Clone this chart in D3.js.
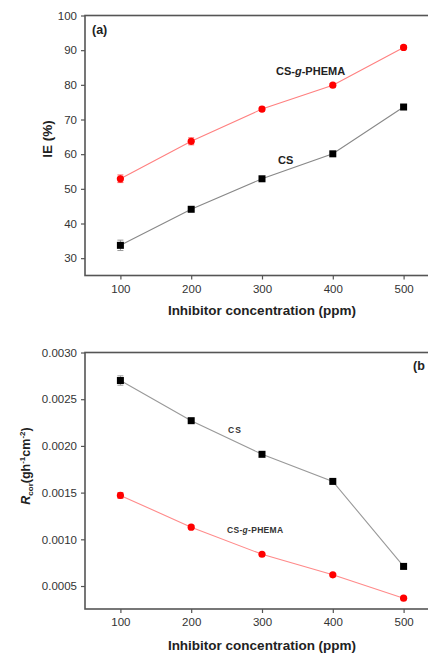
<!DOCTYPE html>
<html><head><meta charset="utf-8">
<script src="https://cdn.jsdelivr.net/npm/d3@7"></script>
<style>html,body{margin:0;padding:0;background:#fff;overflow:hidden}svg{display:block;font-family:"Liberation Sans",Arial,sans-serif}</style>
</head><body>
<script>
const concentrations = [100, 200, 300, 400, 500];
const xTicks = [100, 200, 300, 400, 500];
// panel (a): IE (%)
const ieCS = [33.7, 44.1, 52.9, 60.1, 73.6];
const ieCSerr = [1.5, 0.5, 0.5, 0.5, 0.5];
const iePHEMA = [52.9, 63.7, 73.0, 79.9, 90.8];
const iePHEMAerr = [1.1, 1.0, 0.6, 0.5, 0.5];
const ieTicks = [30, 40, 50, 60, 70, 80, 90, 100];
// panel (b): corrosion rate
const rCS = [0.00270, 0.00227, 0.00191, 0.00162, 0.00071];
const rCSerr = [0.00005, 0.00002, 0.00002, 0.00002, 0.00002];
const rPHEMA = [0.00147, 0.00113, 0.00084, 0.00062, 0.00037];
const rPHEMAerr = [0.00003, 0.00002, 0.00001, 0.00001, 0.00001];
const rTicks = [0.0005, 0.0010, 0.0015, 0.0020, 0.0025, 0.0030];

const W = 428, H = 653;
const svg = d3.select("body").append("svg").attr("width", W).attr("height", H);

const x = d3.scaleLinear().domain([50, 550]).range([85, 439]);

function panel(opts) {
  const y = d3.scaleLinear().domain(opts.yDomain).range([opts.bottom, opts.top]);
  const g = svg.append("g");
  const frame = "#555";
  g.append("rect").attr("x", x.range()[0]).attr("y", opts.top)
    .attr("width", x.range()[1] - x.range()[0]).attr("height", opts.bottom - opts.top)
    .attr("fill", "none").attr("stroke", frame).attr("stroke-width", 1.6);
  const ax = g.append("g").attr("transform", `translate(0,${opts.bottom})`)
    .call(d3.axisBottom(x).tickValues(xTicks).tickSize(4).tickPadding(5).tickFormat(d3.format("d")));
  const ay = g.append("g").attr("transform", `translate(${x.range()[0]},0)`)
    .call(d3.axisLeft(y).tickValues(opts.yTicks).tickSize(4).tickPadding(4).tickFormat(opts.fmt));
  [ax, ay].forEach(a => {
    a.select(".domain").remove();
    a.selectAll(".tick line").attr("stroke", frame).attr("stroke-width", 1.2);
    a.selectAll(".tick text").attr("fill", "#333").attr("font-size", 11.5)
      .attr("font-family", "'Liberation Sans',Arial,sans-serif");
  });
  opts.series.forEach(s => {
    const pts = concentrations.map((c, i) => ({c, v: s.values[i], e: s.err[i]}));
    g.append("path").datum(pts)
      .attr("d", d3.line().x(d => x(d.c)).y(d => y(d.v)))
      .attr("fill", "none").attr("stroke", s.line).attr("stroke-width", 1.1);
    const eb = g.append("g");
    pts.forEach(d => {
      const y1 = y(d.v - d.e), y2 = y(d.v + d.e), cx = x(d.c);
      eb.append("line").attr("x1", cx).attr("x2", cx).attr("y1", y1).attr("y2", y2)
        .attr("stroke", s.errColor).attr("stroke-width", 1);
      [y1, y2].forEach(yy => eb.append("line").attr("x1", cx - 3).attr("x2", cx + 3)
        .attr("y1", yy).attr("y2", yy).attr("stroke", s.errColor).attr("stroke-width", 1));
    });
    if (s.shape === "square") {
      g.selectAll(null).data(pts).enter().append("rect")
        .attr("x", d => x(d.c) - 3.5).attr("y", d => y(d.v) - 3.5)
        .attr("width", 7).attr("height", 7).attr("fill", s.fill);
    } else {
      g.selectAll(null).data(pts).enter().append("circle")
        .attr("cx", d => x(d.c)).attr("cy", d => y(d.v)).attr("r", 3.6).attr("fill", s.fill);
    }
  });
  g.append("text").attr("x", 262).attr("y", opts.xTitleY).attr("text-anchor", "middle")
    .attr("font-weight", "bold").attr("font-size", 13.5).attr("fill", "#222")
    .text("Inhibitor concentration (ppm)");
  return {g, y};
}

// Panel (a)
const pa = panel({
  top: 15.5, bottom: 275.5, yDomain: [25, 100], yTicks: ieTicks, fmt: d3.format("d"), xTitleY: 315,
  series: [
    {values: ieCS, err: ieCSerr, line: "#888", fill: "#000", errColor: "#999", shape: "square"},
    {values: iePHEMA, err: iePHEMAerr, line: "#ff8080", fill: "#ff0000", errColor: "#ff6060", shape: "circle"}
  ]
});
pa.g.append("text").attr("x", 92).attr("y", 34).attr("font-weight", "bold").attr("font-size", 12.5)
  .attr("fill", "#222").text("(a)");
const la = pa.g.append("text").attr("x", 276).attr("y", 75).attr("font-weight", "bold")
  .attr("font-size", 11).attr("fill", "#222");
la.append("tspan").text("CS-");
la.append("tspan").attr("font-style", "italic").text("g");
la.append("tspan").text("-PHEMA");
pa.g.append("text").attr("x", 278).attr("y", 164).attr("font-weight", "bold")
  .attr("font-size", 11).attr("fill", "#222").text("CS");
pa.g.append("text").attr("transform", "translate(52,139) rotate(-90)").attr("text-anchor", "middle")
  .attr("font-weight", "bold").attr("font-size", 13.5).attr("fill", "#222").text("IE (%)");

// Panel (b)
const pb = panel({
  top: 352.5, bottom: 609, yDomain: [0.000254, 0.0030], yTicks: rTicks, fmt: d3.format(".4f"), xTitleY: 650,
  series: [
    {values: rCS, err: rCSerr, line: "#999", fill: "#000", errColor: "#999", shape: "square"},
    {values: rPHEMA, err: rPHEMAerr, line: "#ff8a8a", fill: "#ff0000", errColor: "#ff6060", shape: "circle"}
  ]
});
pb.g.append("text").attr("x", 413).attr("y", 370).attr("font-weight", "bold").attr("font-size", 12.5)
  .attr("fill", "#222").text("(b");
pb.g.append("text").attr("x", 228).attr("y", 433).attr("font-weight", "bold")
  .attr("font-size", 8.5).attr("letter-spacing", 1).attr("fill", "#333").text("CS");
const lb = pb.g.append("text").attr("x", 227).attr("y", 533).attr("font-weight", "bold")
  .attr("font-size", 8.5).attr("letter-spacing", 0.3).attr("fill", "#333");
lb.append("tspan").text("CS-");
lb.append("tspan").attr("font-style", "italic").text("g");
lb.append("tspan").text("-PHEMA");
const yt = pb.g.append("text").attr("transform", "translate(30,466) rotate(-90)").attr("text-anchor", "middle")
  .attr("font-weight", "bold").attr("font-size", 12.5).attr("fill", "#222");
yt.append("tspan").attr("font-style", "italic").text("R");
yt.append("tspan").attr("font-size", 8).attr("dy", 3).text("cor");
yt.append("tspan").attr("dy", -3).text("(gh");
yt.append("tspan").attr("font-size", 8).attr("dy", -5).text("-1");
yt.append("tspan").attr("dy", 5).text("cm");
yt.append("tspan").attr("font-size", 8).attr("dy", -5).text("-2");
yt.append("tspan").attr("dy", 5).text(")");
</script>
</body></html>
